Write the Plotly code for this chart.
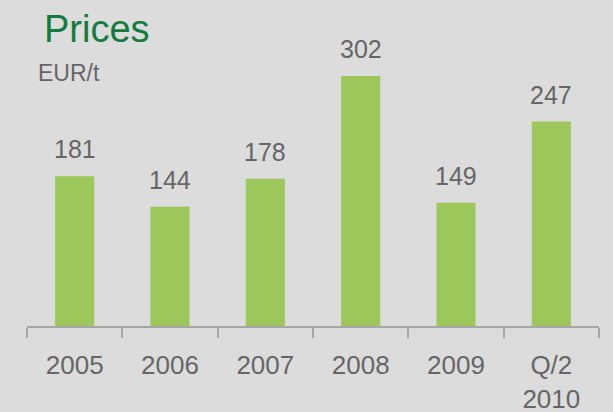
import plotly.graph_objects as go

# Average price per period, EUR per tonne
periods = ["2005", "2006", "2007", "2008", "2009", "Q/2<br>2010"]
prices = [181, 144, 178, 302, 149, 247]

bar_color = "#9dc75b"
text_color = "#666666"
bg_color = "#dcdcdc"
font_family = "Liberation Sans, Arial, sans-serif"

fig = go.Figure(
    go.Bar(
        x=periods,
        y=prices,
        marker=dict(color=bar_color, line=dict(width=0)),
        width=0.41,
        hoverinfo="x+y",
    )
)

# value labels above each bar (category index as x position)
for i, v in enumerate(prices):
    fig.add_annotation(
        x=i, y=v, text=str(v), showarrow=False,
        xref="x", yref="y", yanchor="bottom", yshift=11,
        font=dict(family=font_family, size=25, color=text_color),
    )

L, R, T, B = 27, 14, 28, 86
W, H = 613, 412
plot_w = W - L - R
plot_h = H - T - B

def px_to_paper(x, y_from_top):
    return (x - L) / plot_w, (H - y_from_top - B) / plot_h

# heading and unit
hx, hy = px_to_paper(42, 52)
fig.add_annotation(
    x=hx, y=hy, xref="paper", yref="paper", text="Prices", showarrow=False,
    xanchor="left", yanchor="bottom",
    font=dict(family=font_family, size=38, color="#137b3d"),
)
ux, uy = px_to_paper(36, 88)
fig.add_annotation(
    x=ux, y=uy, xref="paper", yref="paper", text="EUR/t", showarrow=False,
    xanchor="left", yanchor="bottom",
    font=dict(family=font_family, size=23, color=text_color),
)

fig.update_layout(
    width=W,
    height=H,
    margin=dict(l=L, r=R, t=T, b=B, autoexpand=False),
    paper_bgcolor=bg_color,
    plot_bgcolor=bg_color,
    showlegend=False,
    font=dict(family=font_family, color=text_color),
    xaxis=dict(
        type="category",
        range=[-0.5, len(periods) - 0.5],
        automargin=False,
        showline=True, linecolor="#a6a6a6", linewidth=2,
        ticks="outside", tickson="boundaries", ticklen=10, tickwidth=2, tickcolor="#a6a6a6",
        tickfont=dict(size=26, color=text_color),
        tickangle=0,
        showgrid=False, zeroline=False,
        ticklabelstandoff=15,
    ),
    yaxis=dict(range=[0, 360], visible=False, showgrid=False, zeroline=False),
)

fig.write_html("out.html")
